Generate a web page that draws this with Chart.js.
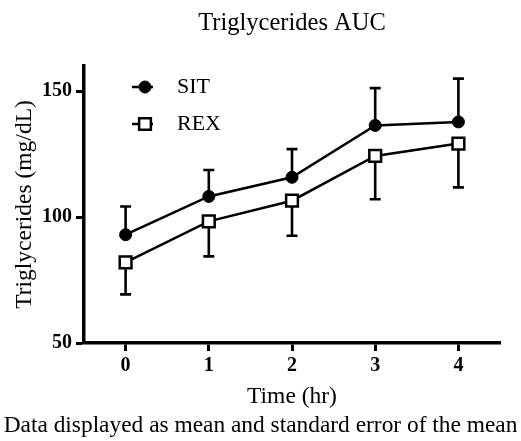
<!DOCTYPE html>
<html>
<head>
<meta charset="utf-8">
<script src="https://cdn.jsdelivr.net/npm/chart.js@4"></script>
<style>
  html, body { margin: 0; padding: 0; background: #fff; }
  #wrap { width: 521px; height: 441px; }
</style>
</head>
<body>
<div id="wrap"><canvas id="chart" width="521" height="441"></canvas></div>
<script>
// Data
const times = [0, 1, 2, 3, 4];
const sitMean = [93.0, 108.2, 115.8, 136.4, 137.8];
const sitSem = [11.2, 10.5, 11.2, 14.8, 17.2];
const rexMean = [82.0, 98.3, 106.5, 124.3, 129.2];
const rexSem = [12.7, 13.9, 13.9, 17.2, 17.4];
const yTicks = [50, 100, 150];

const chartTitle = 'Triglycerides AUC';
const footNote = 'Data displayed as mean and standard error of the mean';

const serif = "'Liberation Serif', 'Times New Roman', serif";

function toPoints(values) {
    return times.map((t, i) => ({ x: t, y: values[i] }));
}

// Error bars: SIT drawn upward, REX drawn downward (as in the original)
const errorBars = {
    id: 'errorBars',
    beforeDatasetsDraw(chart) {
        const ctx = chart.ctx;
        const xs = chart.scales.x;
        const ys = chart.scales.y;
        const sets = [
            { mean: sitMean, err: sitSem, dir: 1 },
            { mean: rexMean, err: rexSem, dir: -1 }
        ];
        ctx.save();
        ctx.strokeStyle = '#000';
        ctx.lineWidth = 2.6;
        sets.forEach(s => {
            times.forEach((t, i) => {
                const px = xs.getPixelForValue(t);
                const y0 = ys.getPixelForValue(s.mean[i]);
                const y1 = ys.getPixelForValue(s.mean[i] + s.dir * s.err[i]);
                ctx.beginPath();
                ctx.moveTo(px, y0);
                ctx.lineTo(px, y1);
                ctx.moveTo(px - 5.5, y1);
                ctx.lineTo(px + 5.5, y1);
                ctx.stroke();
            });
        });
        ctx.restore();
    }
};

// Legend inside the plot, top left
const insideLegend = {
    id: 'insideLegend',
    afterDatasetsDraw(chart) {
        const ctx = chart.ctx;
        const area = chart.chartArea;
        const x0 = area.left + 48;
        let y = area.top + 21;
        ctx.save();
        chart.data.datasets.forEach(ds => {
            ctx.strokeStyle = '#000';
            ctx.lineWidth = 2.5;
            ctx.beginPath();
            ctx.moveTo(x0, y);
            ctx.lineTo(x0 + 21, y);
            ctx.stroke();
            ctx.fillStyle = ds.pointBackgroundColor;
            ctx.lineWidth = ds.pointBorderWidth;
            Chart.helpers.drawPoint(ctx, {
                pointStyle: ds.pointStyle,
                radius: ds.pointRadius,
                borderWidth: ds.pointBorderWidth
            }, x0 + 13, y);
            ctx.fillStyle = '#000';
            ctx.font = '22px ' + serif;
            ctx.textBaseline = 'middle';
            ctx.textAlign = 'left';
            ctx.fillText(ds.label, x0 + 45, y);
            y += 37;
        });
        ctx.restore();
    }
};

// Title centred over the plot area, footnote centred on the canvas
const captions = {
    id: 'captions',
    afterDraw(chart) {
        const ctx = chart.ctx;
        const area = chart.chartArea;
        ctx.save();
        ctx.fillStyle = '#000';
        ctx.textAlign = 'center';
        ctx.textBaseline = 'alphabetic';
        ctx.font = '24.5px ' + serif;
        ctx.fillText(chartTitle, (area.left + area.right) / 2, 30);
        ctx.font = '23.4px ' + serif;
        ctx.fillText(footNote, chart.width / 2, chart.height - 9.5);
        ctx.restore();
    }
};

const ctx = document.getElementById('chart').getContext('2d');
const chart = new Chart(ctx, {
    type: 'line',
    data: {
        datasets: [{
            label: 'SIT',
            data: toPoints(sitMean),
            borderColor: '#000',
            borderWidth: 2.5,
            pointStyle: 'circle',
            pointRadius: 6,
            pointBackgroundColor: '#000',
            pointBorderColor: '#000',
            pointBorderWidth: 1,
            tension: 0
        }, {
            label: 'REX',
            data: toPoints(rexMean),
            borderColor: '#000',
            borderWidth: 2.5,
            pointStyle: 'rect',
            pointRadius: 8.3,
            pointBackgroundColor: '#fff',
            pointBorderColor: '#000',
            pointBorderWidth: 2.5,
            tension: 0
        }]
    },
    options: {
        responsive: false,
        animation: false,
        layout: { padding: { left: 0, right: 21, top: 66, bottom: 30 } },
        plugins: {
            legend: { display: false },
            tooltip: { enabled: false },
            title: { display: false },
            subtitle: { display: false }
        },
        scales: {
            x: {
                type: 'linear',
                min: -0.5,
                max: 4.5,
                afterBuildTicks: s => { s.ticks = times.map(v => ({ value: v })); },
                afterFit: s => { s.height = 68; },
                grid: { drawOnChartArea: false, drawTicks: true, tickLength: 8, tickWidth: 3, tickColor: '#000' },
                border: { display: true, color: '#000', width: 3.5 },
                ticks: { color: '#000', padding: 3, font: { family: serif, size: 20, weight: 'bold' } },
                title: {
                    display: true,
                    text: 'Time (hr)',
                    color: '#000',
                    font: { family: serif, size: 23.5 },
                    padding: { top: 0, bottom: 0 }
                }
            },
            y: {
                type: 'linear',
                min: 50,
                max: 160,
                afterBuildTicks: s => { s.ticks = yTicks.map(v => ({ value: v })); },
                afterFit: s => { s.width = 84; },
                grid: { drawOnChartArea: false, drawTicks: true, tickLength: 8, tickWidth: 3, tickColor: '#000' },
                border: { display: true, color: '#000', width: 3.5 },
                ticks: { color: '#000', padding: 4, font: { family: serif, size: 20, weight: 'bold' } },
                title: {
                    display: true,
                    text: 'Triglycerides (mg/dL)',
                    color: '#000',
                    font: { family: serif, size: 23.5 },
                    padding: { top: 11, bottom: 0 }
                }
            }
        }
    },
    plugins: [errorBars, insideLegend, captions]
});
</script>
</body>
</html>
